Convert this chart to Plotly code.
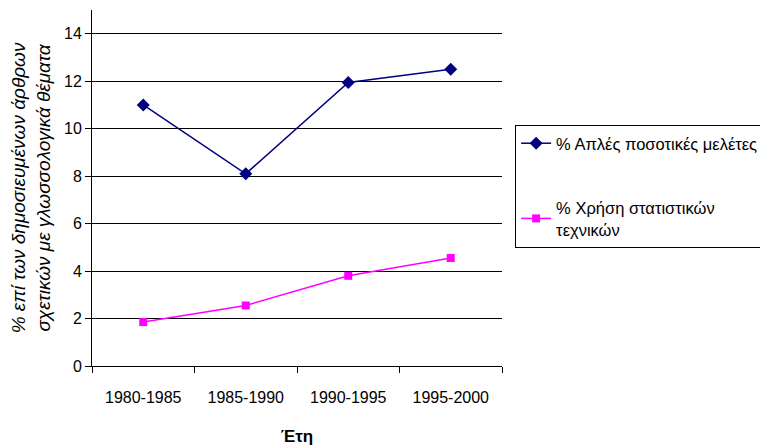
import plotly.graph_objects as go

periods = ["1980-1985", "1985-1990", "1990-1995", "1995-2000"]
simple_pct = [11.0, 8.1, 11.95, 12.5]
stats_pct = [1.85, 2.55, 3.8, 4.55]

FONT = "Liberation Sans, Arial, sans-serif"

fig = go.Figure()

fig.add_trace(
    go.Scatter(
        x=periods,
        y=simple_pct,
        name="% Απλές ποσοτικές μελέτες",
        mode="lines+markers",
        line=dict(color="#000080", width=1.5),
        marker=dict(symbol="diamond", size=10, color="#000080"),
        legendgroup="a",
    )
)

fig.add_trace(
    go.Scatter(
        x=periods,
        y=stats_pct,
        name="% Χρήση στατιστικών<br>τεχνικών",
        mode="lines+markers",
        line=dict(color="#FF00FF", width=1.5),
        marker=dict(symbol="square", size=8, color="#FF00FF"),
        legendgroup="b",
    )
)

# the page body adds an 8px offset, so the figure is sized a bit smaller
fig.update_layout(
    width=760,
    height=438,
    margin=dict(l=84, r=266, t=2, b=80),
    plot_bgcolor="white",
    paper_bgcolor="white",
    font=dict(family=FONT, size=16, color="black"),
    showlegend=True,
    legend=dict(
        x=1.032,
        y=0.677,
        xanchor="left",
        yanchor="top",
        bordercolor="black",
        borderwidth=1,
        bgcolor="white",
        font=dict(size=16.5),
        tracegroupgap=40,
        itemwidth=30,
    ),
)

fig.update_xaxes(
    type="category",
    range=[-0.5, 3.5],
    tickson="boundaries",
    ticks="outside",
    ticklen=6,
    tickcolor="black",
    ticklabelstandoff=17,
    showline=True,
    linecolor="black",
    linewidth=1,
    showgrid=False,
    title=dict(text="<b>Έτη</b>", font=dict(size=17), standoff=24),
)

fig.update_yaxes(
    range=[0, 15],
    tickvals=[0, 2, 4, 6, 8, 10, 12, 14],
    ticks="outside",
    ticklen=6,
    tickcolor="black",
    showline=True,
    linecolor="black",
    linewidth=1,
    showgrid=True,
    gridcolor="black",
    gridwidth=1,
    zeroline=False,
    title=dict(
        text="<i>% επί των δημοσιευμένων άρθρων<br>σχετικών με γλωσσολογικά θέματα</i>",
        font=dict(size=19),
        standoff=12,
    ),
)

fig.write_html("out.html")
